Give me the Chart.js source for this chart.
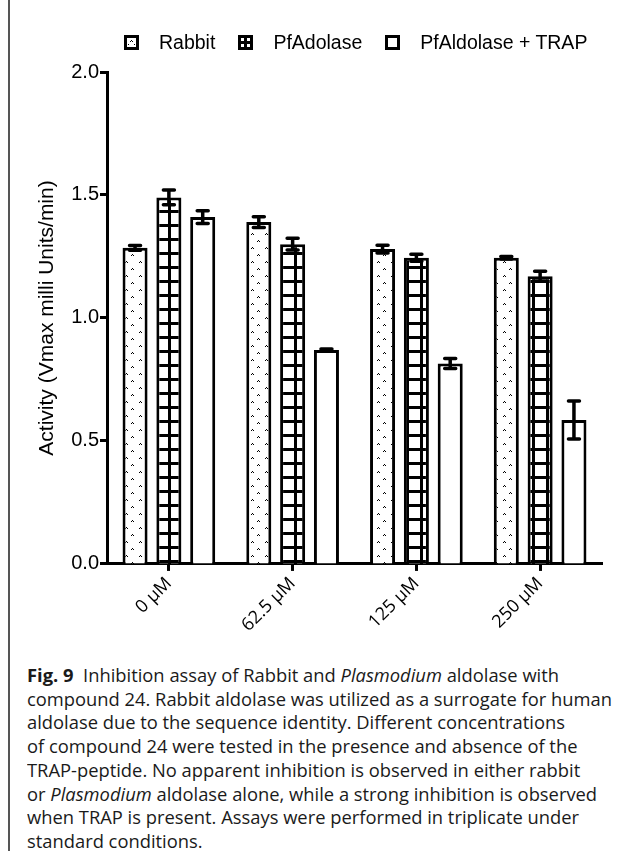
<!DOCTYPE html>
<html>
<head>
<meta charset="utf-8">
<script src="https://cdn.jsdelivr.net/npm/chart.js@4.4.1/dist/chart.umd.min.js"></script>
<style>
  html, body { margin: 0; padding: 0; background: #fff; }
  body { width: 629px; height: 857px; position: relative; overflow: hidden; }
  #frame { position: absolute; left: 8px; top: 0; width: 1.5px; height: 851px; background: #555; }
  #legend { position: absolute; top: 31px; left: 124px; display: flex; align-items: center;
            font-family: "Liberation Sans", Arial, sans-serif; font-size: 19.5px; color: #000; }
  #legend .item { display: flex; align-items: center; margin-right: 23px; }
  #legend canvas { margin-right: 20px; }
  #chart { position: absolute; left: 0; top: 0; }
  #caption { position: absolute; left: 27px; top: 663px; font-family: "Open Sans", sans-serif;
             font-size: 18.5px; line-height: 23.7px; color: #1a1a1a; transform-origin: 0 0; }
  #caption div { white-space: nowrap; }
</style>
</head>
<body>
<div id="frame"></div>
<canvas id="chart" width="629" height="660"></canvas>
<div id="legend"></div>
<div id="caption">
  <div><b>Fig. 9</b>&nbsp; Inhibition assay of Rabbit and <i>Plasmodium</i> aldolase with</div>
  <div>compound 24. Rabbit aldolase was utilized as a surrogate for human</div>
  <div>aldolase due to the sequence identity. Different concentrations</div>
  <div>of compound 24 were tested in the presence and absence of the</div>
  <div>TRAP-peptide. No apparent inhibition is observed in either rabbit</div>
  <div>or <i>Plasmodium</i> aldolase alone, while a strong inhibition is observed</div>
  <div>when TRAP is present. Assays were performed in triplicate under</div>
  <div>standard conditions.</div>
</div>
<script>
const categories = ['0 µM', '62.5 µM', '125 µM', '250 µM'];
const seriesNames = ['Rabbit', 'PfAdolase', 'PfAldolase + TRAP'];

const rabbit = [1.285, 1.39, 1.28, 1.245];
const rabbitErr = [0.01, 0.022, 0.016, 0.005];
const pfAldolase = [1.49, 1.30, 1.245, 1.17];
const pfAldolaseErr = [0.03, 0.024, 0.014, 0.02];
const pfTrap = [1.41, 0.87, 0.815, 0.585];
const pfTrapErr = [0.026, 0.004, 0.02, 0.077];

const yTicks = [0, 0.5, 1.0, 1.5, 2.0];

// fill patterns
function makeTile(w, h, draw) {
    const c = document.createElement('canvas');
    c.width = w; c.height = h;
    const g = c.getContext('2d');
    g.fillStyle = '#fff';
    g.fillRect(0, 0, w, h);
    g.fillStyle = '#000';
    draw(g);
    return document.getElementById('chart').getContext('2d').createPattern(c, 'repeat');
}

const dotPattern = makeTile(14, 14, g => {
    // small caret marks
    g.fillRect(6, 2, 1, 1); g.fillRect(5, 3, 1, 1); g.fillRect(7, 3, 1, 1);
    g.fillRect(0, 9, 1, 1); g.fillRect(13, 10, 1, 1); g.fillRect(1, 10, 1, 1);
});
const gridPattern = makeTile(14, 14, g => {
    g.fillRect(0, 0, 14, 3);
    g.fillRect(0, 0, 3, 14);
});

const fills = [dotPattern, gridPattern, '#fff'];

const errorBars = {
    id: 'errorBars',
    afterDatasetsDraw(chart) {
        const { ctx, scales: { y } } = chart;
        ctx.save();
        ctx.strokeStyle = '#000';
        ctx.lineWidth = 3.5;
        ctx.lineCap = 'round';
        chart.data.datasets.forEach((ds, di) => {
            chart.getDatasetMeta(di).data.forEach((bar, i) => {
                const v = ds.data[i], e = ds.errors[i];
                const top = y.getPixelForValue(v + e);
                const bot = y.getPixelForValue(v - e);
                const x = bar.x, w = 5.5;
                ctx.beginPath();
                ctx.moveTo(x, top); ctx.lineTo(x, bot);
                ctx.moveTo(x - w, top); ctx.lineTo(x + w, top);
                ctx.moveTo(x - w, bot); ctx.lineTo(x + w, bot);
                ctx.stroke();
            });
        });
        ctx.restore();
    }
};

function dataset(i, values, errors) {
    return {
        label: seriesNames[i],
        data: values,
        errors: errors,
        backgroundColor: fills[i],
        borderColor: '#000',
        borderWidth: 3,
        barPercentage: 0.74,
        categoryPercentage: 0.82
    };
}

const chart = new Chart(document.getElementById('chart'), {
    type: 'bar',
    data: {
        labels: categories,
        datasets: [
            dataset(0, rabbit, rabbitErr),
            dataset(1, pfAldolase, pfAldolaseErr),
            dataset(2, pfTrap, pfTrapErr)
        ]
    },
    options: {
        responsive: false,
        animation: false,
        layout: { padding: { left: 14, right: 27, top: 72, bottom: 22 } },
        plugins: { legend: { display: false }, tooltip: { enabled: false } },
        scales: {
            x: {
                grid: { display: true, drawOnChartArea: false, offset: false, color: '#000', tickWidth: 3, tickLength: 7 },
                border: { display: true, color: '#000', width: 3 },
                ticks: {
                    color: '#000', minRotation: 45, maxRotation: 45, padding: 2,
                    font: { family: 'Open Sans', size: 18 }
                }
            },
            y: {
                min: 0, max: 2,
                afterBuildTicks: s => { s.ticks = yTicks.map(v => ({ value: v })); },
                grid: { display: true, drawOnChartArea: false, color: '#000', tickWidth: 3, tickLength: 7 },
                border: { display: true, color: '#000', width: 3 },
                ticks: {
                    color: '#000', padding: 1,
                    font: { family: 'Liberation Sans', size: 20 },
                    callback: v => v.toFixed(1)
                },
                title: {
                    display: true, text: 'Activity (Vmax milli Units/min)', color: '#000',
                    font: { family: 'Liberation Sans', size: 21 },
                    padding: { top: 21, bottom: 10 }
                }
            }
        }
    },
    plugins: [errorBars]
});

// legend built from the datasets
const legend = document.getElementById('legend');
chart.data.datasets.forEach((ds, i) => {
    const item = document.createElement('div');
    item.className = 'item';
    const box = document.createElement('canvas');
    box.width = 15; box.height = 15;
    const g = box.getContext('2d');
    g.fillStyle = '#000';
    g.fillRect(0, 0, 15, 15);
    g.fillStyle = '#fff';
    g.fillRect(3, 3, 9, 9);
    g.fillStyle = '#000';
    if (i === 0) { g.fillRect(7, 5, 1, 1); g.fillRect(6, 6, 1, 1); g.fillRect(8, 6, 1, 1); g.fillRect(4, 9, 1, 1); g.fillRect(10, 9, 1, 1); }
    if (i === 1) { g.fillRect(6, 3, 3, 9); g.fillRect(3, 6, 9, 3); }
    item.appendChild(box);
    const t = document.createElement('span');
    t.textContent = ds.label;
    item.appendChild(t);
    legend.appendChild(item);
});

// fit caption width
const cap = document.getElementById('caption');
let maxW = 0;
cap.querySelectorAll('div').forEach(d => { maxW = Math.max(maxW, d.scrollWidth); });
cap.style.transform = 'scaleX(' + (585 / maxW) + ')';
</script>
</body>
</html>
